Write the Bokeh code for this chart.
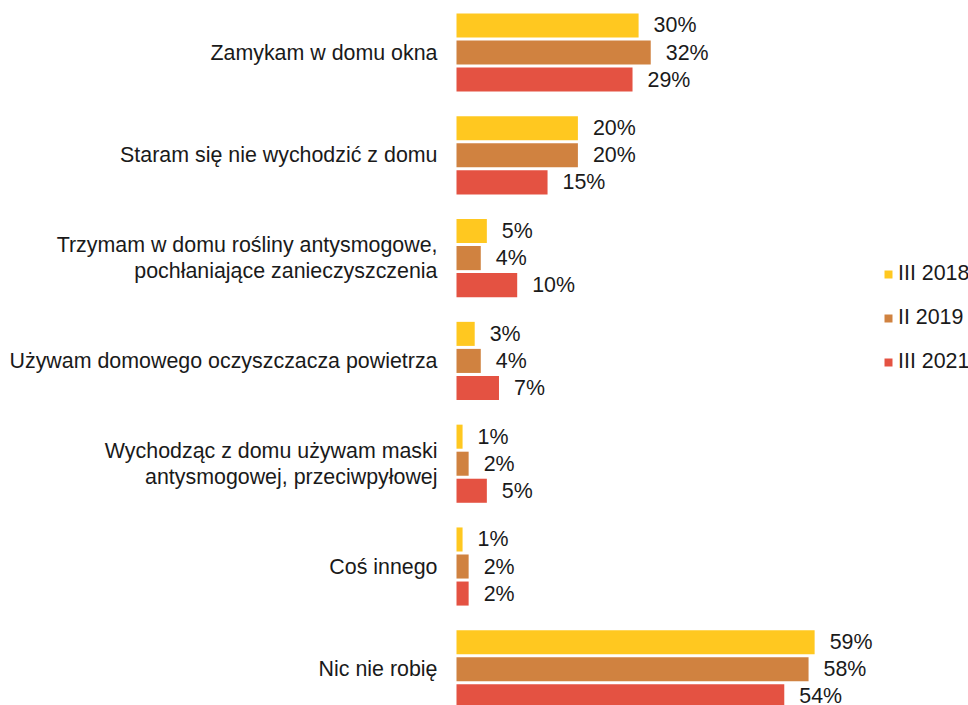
from bokeh.plotting import figure
from bokeh.models import ColumnDataSource, Range1d, Legend, LegendItem
from bokeh.transform import dodge
from bokeh.core.properties import value
from bokeh.embed import file_html
from bokeh.resources import INLINE

categories = [
    "Zamykam w domu okna",
    "Staram się nie wychodzić z domu",
    "Trzymam w domu rośliny antysmogowe,\npochłaniające zanieczyszczenia",
    "Używam domowego oczyszczacza powietrza",
    "Wychodząc z domu używam maski\nantysmogowej, przeciwpyłowej",
    "Coś innego",
    "Nic nie robię",
]
series_names = ["III 2018", "II 2019", "III 2021"]
v2018 = [30, 20, 5, 3, 1, 1, 59]
v2019 = [32, 20, 4, 4, 2, 2, 58]
v2021 = [29, 15, 10, 7, 5, 2, 54]
colors = ["#FFC820", "#D08240", "#E45242"]

FONT = "Liberation Sans"
FS = "21.4px"

src = ColumnDataSource(dict(
    y=list(range(len(categories))),
    cat=categories,
    s0=v2018, s1=v2019, s2=v2021,
    l0=[f"{v}%" for v in v2018],
    l1=[f"{v}%" for v in v2019],
    l2=[f"{v}%" for v in v2021],
    zero=[0] * len(categories),
))

PXU = 6.07  # pixels per percent
p = figure(width=968, height=705, output_backend="svg", toolbar_location=None,
           x_range=Range1d(-456 / PXU, (968 - 456) / PXU), y_range=Range1d(6.352, -0.506),
           x_axis_location=None, y_axis_location=None,
           min_border_left=0, min_border_right=0, min_border_top=0, min_border_bottom=0)
p.outline_line_color = None
p.xgrid.visible = False
p.ygrid.visible = False
p.background_fill_color = "white"

offsets = [-0.263, 0.0, 0.263]
renderers = []
for i in range(3):
    r = p.hbar(y=dodge("y", offsets[i], range=p.y_range), left=0, right=f"s{i}",
               height=0.234, source=src, fill_color=colors[i], line_color=None)
    renderers.append(r)
    p.text(x=f"s{i}", y=dodge("y", offsets[i], range=p.y_range), text=f"l{i}", source=src,
           x_offset=15, text_align="left", text_baseline="middle",
           text_font=value(FONT), text_font_size=value(FS), text_color="#1a1a1a")

p.text(x="zero", y="y", text="cat", source=src, x_offset=-19,
       text_align="right", text_baseline="middle",
       text_font=value(FONT), text_font_size=value(FS), text_color="#1a1a1a",
       text_line_height=1.1)

legend = Legend(items=[LegendItem(label=series_names[i], renderers=[renderers[i]]) for i in range(3)],
                location=(883, 331), orientation="vertical",
                glyph_width=10, glyph_height=10, label_standoff=5, label_height=24,
                spacing=19, padding=0, margin=0, border_line_color=None,
                background_fill_alpha=0,
                label_text_font=FONT, label_text_font_size=FS, label_text_color="#1a1a1a")
p.add_layout(legend)

open("out.html", "w").write(file_html(p, INLINE))
